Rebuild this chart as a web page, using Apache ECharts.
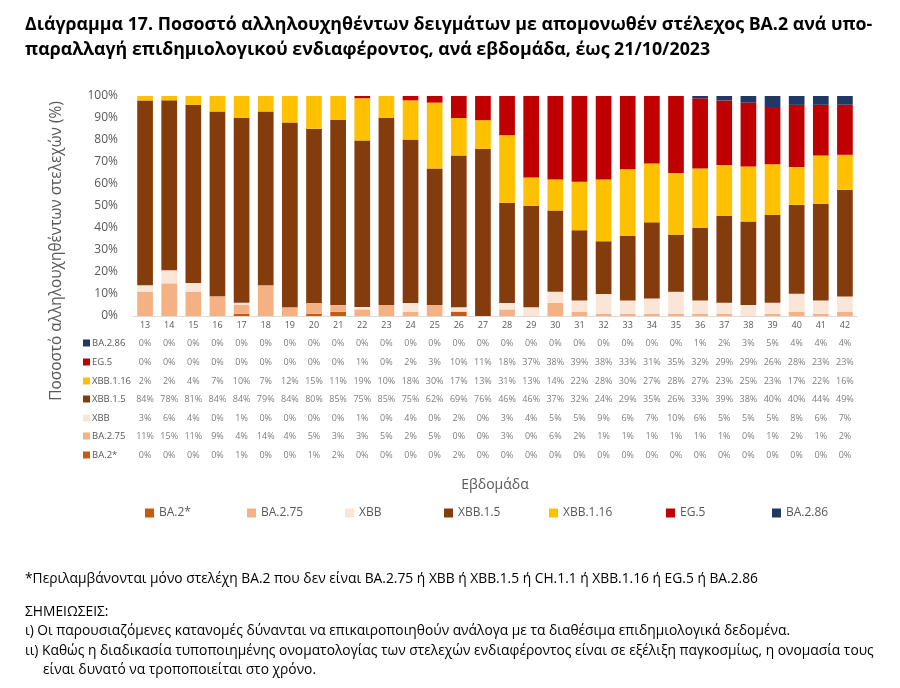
<!DOCTYPE html>
<html>
<head>
<meta charset="utf-8">
<script src="https://cdn.jsdelivr.net/npm/echarts@6/dist/echarts.min.js"></script>
<style>
html,body{margin:0;padding:0;background:#fff;}
#chart{width:900px;height:688px;}
</style>
</head>
<body>
<div id="chart"></div>
<script>
const weeks = ['13','14','15','16','17','18','19','20','21','22','23','24','25','26','27','28','29','30','31','32','33','34','35','36','37','38','39','40','41','42'];
const ba2    = [0,0,0,0,1,0,0,1,2,0,0,0,0,2, 0,0,0,0,0,0,0,0,0,0,0,0,0,0,0,0];
const ba275  = [11,15,11,9,4,14,4,5,3,3,5,2,5,0, 0,3,0,6,2,1,1,1,1,1,1,0,1,2,1,2];
const xbb    = [3,6,4,0,1,0,0,0,0,1,0,4,0,2, 0,3,4,5,5,9,6,7,10,6,5,5,5,8,6,7];
const xbb15  = [84,78,81,84,84,79,84,80,85,75,85,75,62,69, 76,46,46,37,32,24,29,35,26,33,39,38,40,40,44,49];
const xbb116 = [2,2,4,7,10,7,12,15,11,19,10,18,30,17, 13,31,13,14,22,28,30,27,28,27,23,25,23,17,22,16];
const eg5    = [0,0,0,0,0,0,0,0,0,1,0,2,3,10, 11,18,37,38,39,38,33,31,35,32,29,29,26,28,23,23];
const ba286  = [0,0,0,0,0,0,0,0,0,0,0,0,0,0, 0,0,0,0,0,0,0,0,0,1,2,3,5,4,4,4];

const seriesDefs = [
  {name:'BA.2*',   data:ba2,    color:'#C55A11'},
  {name:'BA.2.75', data:ba275,  color:'#F4B183'},
  {name:'XBB',     data:xbb,    color:'#FBE5D6'},
  {name:'XBB.1.5', data:xbb15,  color:'#843C0C'},
  {name:'XBB.1.16',data:xbb116, color:'#FFC000'},
  {name:'EG.5',    data:eg5,    color:'#C00000'},
  {name:'BA.2.86', data:ba286,  color:'#1F3864'}
];
const totals = weeks.map((w,i)=>seriesDefs.reduce((s,d)=>s+d.data[i],0));

const FONT = '"Open Sans", "Liberation Sans", sans-serif';
const gray = '#595959';
const axisY = 316;
const rowOrder = ['BA.2.86','EG.5','XBB.1.16','XBB.1.5','XBB','BA.2.75','BA.2*'];
const rowYs = [343,362,381,399,418,436,455];
const legendLefts = [145,247,345,444,549,666,772];

const xAxes = [{
  type:'category', data:weeks, gridIndex:0,
  axisLine:{lineStyle:{color:'#d9d9d9'}},
  axisTick:{show:false},
  axisLabel:{interval:0, fontSize:9, color:gray, margin:5, fontFamily:FONT},
  name:'Εβδομάδα', nameLocation:'middle', nameGap:162,
  nameTextStyle:{fontSize:14, color:gray, fontFamily:FONT}
}];
rowOrder.forEach((nm,r)=>{
  const def = seriesDefs.find(d=>d.name===nm);
  xAxes.push({
    type:'category', data:weeks, gridIndex:0, position:'bottom',
    offset: rowYs[r]-axisY,
    axisLine:{show:false}, axisTick:{show:false}, splitLine:{show:false},
    axisLabel:{interval:0, fontSize:9, color:'#7f7f7f', margin:0, verticalAlign:'middle', fontFamily:FONT,
      formatter:(v,idx)=>def.data[idx]+'%'},
    name:'{sq|}{t|'+nm+'}', nameLocation:'start', nameGap:50,
    nameTextStyle:{align:'left', verticalAlign:'middle',
      rich:{sq:{width:7,height:7,backgroundColor:def.color}, t:{fontSize:9.5,color:gray,padding:[0,0,0,2],fontFamily:FONT}}}
  });
});

const legends = seriesDefs.map((d,i)=>({
  left:legendLefts[i], top:507, padding:0, itemWidth:9, itemHeight:9, icon:'rect',
  data:[d.name],
  textStyle:{fontSize:12, color:gray, fontFamily:FONT}
}));

const chart = echarts.init(document.getElementById('chart'));
chart.setOption({
  animation:false,
  textStyle:{fontFamily:FONT},
  title:[
    {text:'Διάγραμμα 17. Ποσοστό αλληλουχηθέντων δειγμάτων με απομονωθέν στέλεχος BA.2 ανά υπο-\nπαραλλαγή επιδημιολογικού ενδιαφέροντος, ανά εβδομάδα, έως 21/10/2023',
     left:20, top:7, textStyle:{fontSize:17.8, fontWeight:'bold', color:'#000', lineHeight:25, fontFamily:FONT}},
    {text:'*Περιλαμβάνονται μόνο στελέχη BA.2 που δεν είναι BA.2.75 ή XBB ή XBB.1.5 ή CH.1.1 ή XBB.1.16 ή EG.5 ή BA.2.86',
     left:20, top:567, textStyle:{fontSize:13.8, fontWeight:'normal', color:'#000', fontFamily:FONT}},
    {text:'ΣΗΜΕΙΩΣΕΙΣ:\nι) Οι παρουσιαζόμενες κατανομές δύνανται να επικαιροποιηθούν ανάλογα με τα διαθέσιμα επιδημιολογικά δεδομένα.\nιι) Καθώς η διαδικασία τυποποιημένης ονοματολογίας των στελεχών ενδιαφέροντος είναι σε εξέλιξη παγκοσμίως, η ονομασία τους\n     είναι δυνατό να τροποποιείται στο χρόνο.',
     left:20, top:597, textStyle:{fontSize:13.8, fontWeight:'normal', color:'#000', lineHeight:19.5, fontFamily:FONT}}
  ],
  graphic:[{
    type:'text', x:57, y:251, rotation:Math.PI/2,
    style:{text:'Ποσοστό αλληλουχηθέντων στελεχών (%)', fill:gray, fontSize:15.4, fontFamily:FONT, align:'center', verticalAlign:'middle'}
  }],
  legend:legends,
  grid:{left:133, top:96, width:724, height:220},
  xAxis:xAxes,
  yAxis:{
    type:'value', min:0, max:100, interval:10,
    axisLabel:{formatter:'{value}%', fontSize:12, color:gray, margin:15, fontFamily:FONT},
    axisLine:{show:false}, axisTick:{show:false}, splitLine:{show:false}
  },
  series:seriesDefs.map(d=>({
    name:d.name, type:'bar', stack:'all', xAxisIndex:0,
    barCategoryGap:'35%',
    itemStyle:{color:d.color},
    data:d.data.map((v,i)=>v/totals[i]*100)
  }))
});
</script>
</body>
</html>
